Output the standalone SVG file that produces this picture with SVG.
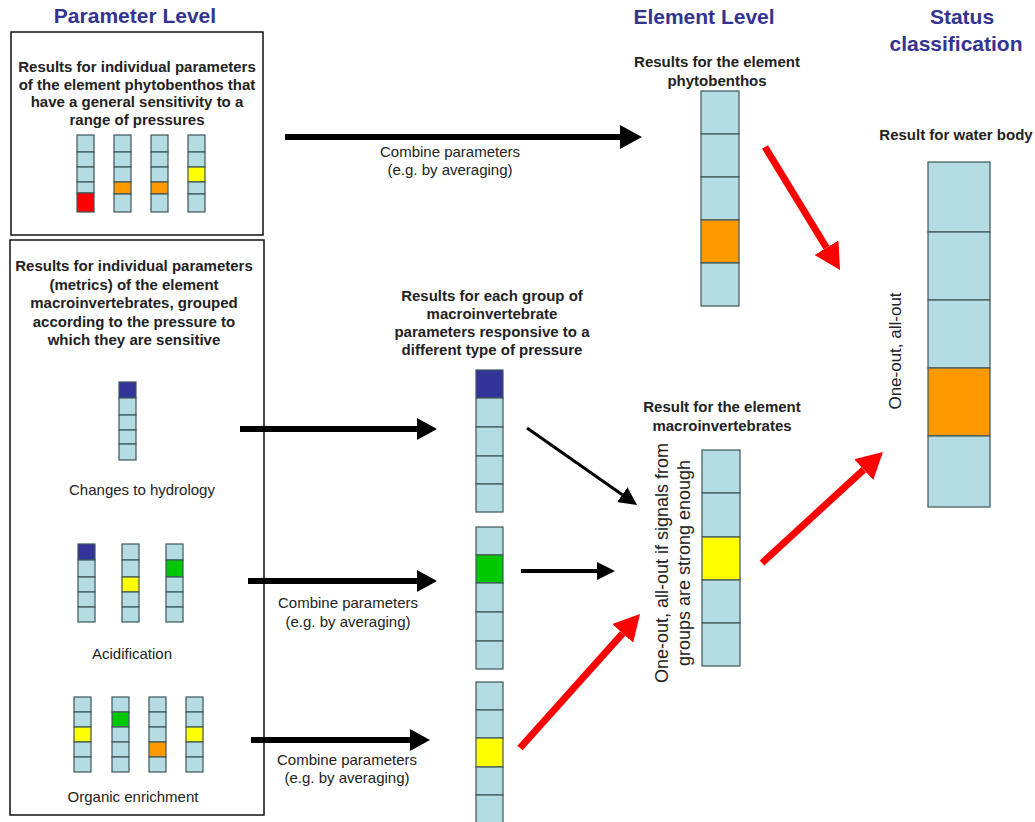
<svg xmlns="http://www.w3.org/2000/svg" width="1035" height="822" viewBox="0 0 1035 822">
<defs>
<style>
.title{font-family:"Liberation Sans",Arial,sans-serif;font-weight:bold;font-size:21px;fill:#333391;text-anchor:middle}
.lbl{font-family:"Liberation Sans",Arial,sans-serif;font-weight:bold;font-size:15px;fill:#222;text-anchor:middle}
.txt{font-family:"Liberation Sans",Arial,sans-serif;font-size:15px;fill:#222;text-anchor:middle}
.rot{font-family:"Liberation Sans",Arial,sans-serif;font-size:18px;fill:#222;text-anchor:middle}
.rot2{font-family:"Liberation Sans",Arial,sans-serif;font-size:17px;fill:#222;text-anchor:middle}
.box{fill:#fff;stroke:#111;stroke-width:1.5}
.c{fill:#b4dce2;stroke:#3d5659;stroke-width:1.2}
.db{fill:#333399;stroke:#3d5659;stroke-width:1.2}
.gr{fill:#00c800;stroke:#3d5659;stroke-width:1.2}
.ye{fill:#ffff00;stroke:#3d5659;stroke-width:1.2}
.or{fill:#ff9900;stroke:#3d5659;stroke-width:1.2}
.rd{fill:#ff0000;stroke:#3d5659;stroke-width:1.2}
.ab{stroke:#000;stroke-width:6;fill:none}
.am{stroke:#000;stroke-width:4;fill:none}
.at{stroke:#000;stroke-width:3;fill:none}
.ar{stroke:#ff0000;stroke-width:7;fill:none}
</style>
<marker id="hb" markerUnits="userSpaceOnUse" markerWidth="22" markerHeight="24" refX="0" refY="12" orient="auto"><path d="M0,0 L22,12 L0,24 z" fill="#000"/></marker>
<marker id="hm" markerUnits="userSpaceOnUse" markerWidth="20" markerHeight="22" refX="0" refY="11" orient="auto"><path d="M0,0 L20,11 L0,22 z" fill="#000"/></marker>
<marker id="ht" markerUnits="userSpaceOnUse" markerWidth="18" markerHeight="18" refX="0" refY="9" orient="auto"><path d="M0,0 L18,9 L0,18 z" fill="#000"/></marker>
<marker id="hr" markerUnits="userSpaceOnUse" markerWidth="26" markerHeight="28" refX="0" refY="14" orient="auto"><path d="M0,0 L26,14 L0,28 z" fill="#ff0000"/></marker>
</defs>
<rect width="1035" height="822" fill="#fff"/>

<text class="title" x="135" y="23">Parameter Level</text>
<text class="title" x="704" y="24">Element Level</text>
<text class="title" x="962" y="24">Status</text>
<text class="title" x="956" y="51">classification</text>

<g id="box-phyto-params">
<rect class="box" x="11" y="32" width="252" height="203"/>
<text class="lbl" x="137" y="72">Results for individual parameters</text>
<text class="lbl" x="137" y="89.5">of the element phytobenthos that</text>
<text class="lbl" x="137" y="107">have a general sensitivity to a</text>
<text class="lbl" x="137" y="124.5">range of pressures</text>
<g>
<rect class="c" x="77" y="135" width="17" height="17"/><rect class="c" x="77" y="152" width="17" height="15"/><rect class="c" x="77" y="167" width="17" height="15"/><rect class="c" x="77" y="182" width="17" height="11"/><rect class="rd" x="77" y="193" width="17" height="19"/>
<rect class="c" x="114" y="135" width="17" height="17"/><rect class="c" x="114" y="152" width="17" height="15"/><rect class="c" x="114" y="167" width="17" height="15"/><rect class="or" x="114" y="182" width="17" height="12"/><rect class="c" x="114" y="194" width="17" height="18"/>
<rect class="c" x="151" y="135" width="17" height="17"/><rect class="c" x="151" y="152" width="17" height="15"/><rect class="c" x="151" y="167" width="17" height="15"/><rect class="or" x="151" y="182" width="17" height="12"/><rect class="c" x="151" y="194" width="17" height="18"/>
<rect class="c" x="188" y="135" width="17" height="17"/><rect class="c" x="188" y="152" width="17" height="15"/><rect class="ye" x="188" y="167" width="17" height="15"/><rect class="c" x="188" y="182" width="17" height="12"/><rect class="c" x="188" y="194" width="17" height="18"/>
</g>
</g>

<g id="box-macro-params">
<rect class="box" x="10" y="240" width="254" height="575"/>
<text class="lbl" x="134" y="271">Results for individual parameters</text>
<text class="lbl" x="134" y="289.5">(metrics) of the element</text>
<text class="lbl" x="134" y="308">macroinvertebrates, grouped</text>
<text class="lbl" x="134" y="326.5">according to the pressure to</text>
<text class="lbl" x="134" y="345">which they are sensitive</text>
</g>

<g id="hydrology-params">
<rect class="db" x="119" y="382" width="17" height="16"/><rect class="c" x="119" y="398" width="17" height="17"/><rect class="c" x="119" y="415" width="17" height="15"/><rect class="c" x="119" y="430" width="17" height="14"/><rect class="c" x="119" y="444" width="17" height="16"/>
<text class="txt" x="142" y="495">Changes to hydrology</text>
</g>

<g id="acidification-params">
<rect class="db" x="78" y="544" width="17" height="16"/><rect class="c" x="78" y="560" width="17" height="17"/><rect class="c" x="78" y="577" width="17" height="15"/><rect class="c" x="78" y="592" width="17" height="15"/><rect class="c" x="78" y="607" width="17" height="15"/>
<rect class="c" x="122" y="544" width="17" height="16"/><rect class="c" x="122" y="560" width="17" height="17"/><rect class="ye" x="122" y="577" width="17" height="15"/><rect class="c" x="122" y="592" width="17" height="15"/><rect class="c" x="122" y="607" width="17" height="15"/>
<rect class="c" x="166" y="544" width="17" height="16"/><rect class="gr" x="166" y="560" width="17" height="17"/><rect class="c" x="166" y="577" width="17" height="15"/><rect class="c" x="166" y="592" width="17" height="15"/><rect class="c" x="166" y="607" width="17" height="15"/>
<text class="txt" x="132" y="659">Acidification</text>
</g>

<g id="organic-params">
<rect class="c" x="74" y="697" width="17" height="15"/><rect class="c" x="74" y="712" width="17" height="15"/><rect class="ye" x="74" y="727" width="17" height="15"/><rect class="c" x="74" y="742" width="17" height="15"/><rect class="c" x="74" y="757" width="17" height="15"/>
<rect class="c" x="112" y="697" width="17" height="15"/><rect class="gr" x="112" y="712" width="17" height="15"/><rect class="c" x="112" y="727" width="17" height="15"/><rect class="c" x="112" y="742" width="17" height="15"/><rect class="c" x="112" y="757" width="17" height="15"/>
<rect class="c" x="149" y="697" width="17" height="15"/><rect class="c" x="149" y="712" width="17" height="15"/><rect class="c" x="149" y="727" width="17" height="15"/><rect class="or" x="149" y="742" width="17" height="15"/><rect class="c" x="149" y="757" width="17" height="15"/>
<rect class="c" x="186" y="697" width="17" height="15"/><rect class="c" x="186" y="712" width="17" height="15"/><rect class="ye" x="186" y="727" width="17" height="15"/><rect class="c" x="186" y="742" width="17" height="15"/><rect class="c" x="186" y="757" width="17" height="15"/>
<text class="txt" x="133" y="802">Organic enrichment</text>
</g>

<g id="group-results">
<text class="lbl" x="492" y="301">Results for each group of</text>
<text class="lbl" x="492" y="319">macroinvertebrate</text>
<text class="lbl" x="492" y="337">parameters responsive to a</text>
<text class="lbl" x="492" y="355">different type of pressure</text>
<rect class="db" x="476" y="370" width="27" height="28"/><rect class="c" x="476" y="398" width="27" height="29"/><rect class="c" x="476" y="427" width="27" height="29"/><rect class="c" x="476" y="456" width="27" height="28"/><rect class="c" x="476" y="484" width="27" height="28"/>
<rect class="c" x="476" y="527" width="27" height="28"/><rect class="gr" x="476" y="555" width="27" height="28"/><rect class="c" x="476" y="583" width="27" height="29"/><rect class="c" x="476" y="612" width="27" height="29"/><rect class="c" x="476" y="641" width="27" height="28"/>
<rect class="c" x="476" y="682" width="27" height="28"/><rect class="c" x="476" y="710" width="27" height="28"/><rect class="ye" x="476" y="738" width="27" height="29"/><rect class="c" x="476" y="767" width="27" height="28"/><rect class="c" x="476" y="795" width="27" height="28"/>
</g>

<g id="phyto-element">
<text class="lbl" x="717" y="67">Results for the element</text>
<text class="lbl" x="717" y="85.5">phytobenthos</text>
<rect class="c" x="701" y="91" width="38" height="43"/><rect class="c" x="701" y="134" width="38" height="43"/><rect class="c" x="701" y="177" width="38" height="43"/><rect class="or" x="701" y="220" width="38" height="43"/><rect class="c" x="701" y="263" width="38" height="43"/>
</g>

<g id="macro-element">
<text class="lbl" x="722" y="412">Result for the element</text>
<text class="lbl" x="722" y="431">macroinvertebrates</text>
<rect class="c" x="702" y="450" width="38" height="43"/><rect class="c" x="702" y="493" width="38" height="44"/><rect class="ye" x="702" y="537" width="38" height="43"/><rect class="c" x="702" y="580" width="38" height="43"/><rect class="c" x="702" y="623" width="38" height="43"/>
<text class="rot" transform="translate(668,563) rotate(-90)">One-out, all-out if signals from</text>
<text class="rot" transform="translate(690,563) rotate(-90)">groups are strong enough</text>
</g>

<g id="water-body">
<text class="lbl" x="956" y="140">Result for water body</text>
<rect class="c" x="928" y="162" width="62" height="70"/><rect class="c" x="928" y="232" width="62" height="68"/><rect class="c" x="928" y="300" width="62" height="68"/><rect class="or" x="928" y="368" width="62" height="68"/><rect class="c" x="928" y="436" width="62" height="71"/>
<text class="rot2" transform="translate(901,351) rotate(-90)">One-out, all-out</text>
</g>

<g id="connectors">
<line class="ab" x1="285" y1="137" x2="620" y2="137" marker-end="url(#hb)"/>
<text class="txt" x="450" y="157">Combine parameters</text>
<text class="txt" x="450" y="175">(e.g. by averaging)</text>
<line class="ab" x1="240" y1="429" x2="417" y2="429" marker-end="url(#hm)"/>
<line class="ab" x1="248" y1="581" x2="417" y2="581" marker-end="url(#hm)"/>
<text class="txt" x="348" y="608">Combine parameters</text>
<text class="txt" x="348" y="627">(e.g. by averaging)</text>
<line class="ab" x1="251" y1="740" x2="410" y2="740" marker-end="url(#hm)"/>
<text class="txt" x="347" y="765">Combine parameters</text>
<text class="txt" x="347" y="783">(e.g. by averaging)</text>
<line class="at" x1="527" y1="428" x2="622.3" y2="494.7" marker-end="url(#ht)"/>
<line class="am" x1="521" y1="571" x2="597" y2="571" marker-end="url(#ht)"/>
<line class="ar" x1="520" y1="748" x2="622.7" y2="633.4" marker-end="url(#hr)"/>
<line class="ar" x1="765" y1="147" x2="826.5" y2="247.8" marker-end="url(#hr)"/>
<line class="ar" x1="762" y1="563" x2="863.8" y2="469.6" marker-end="url(#hr)"/>
</g>
</svg>
